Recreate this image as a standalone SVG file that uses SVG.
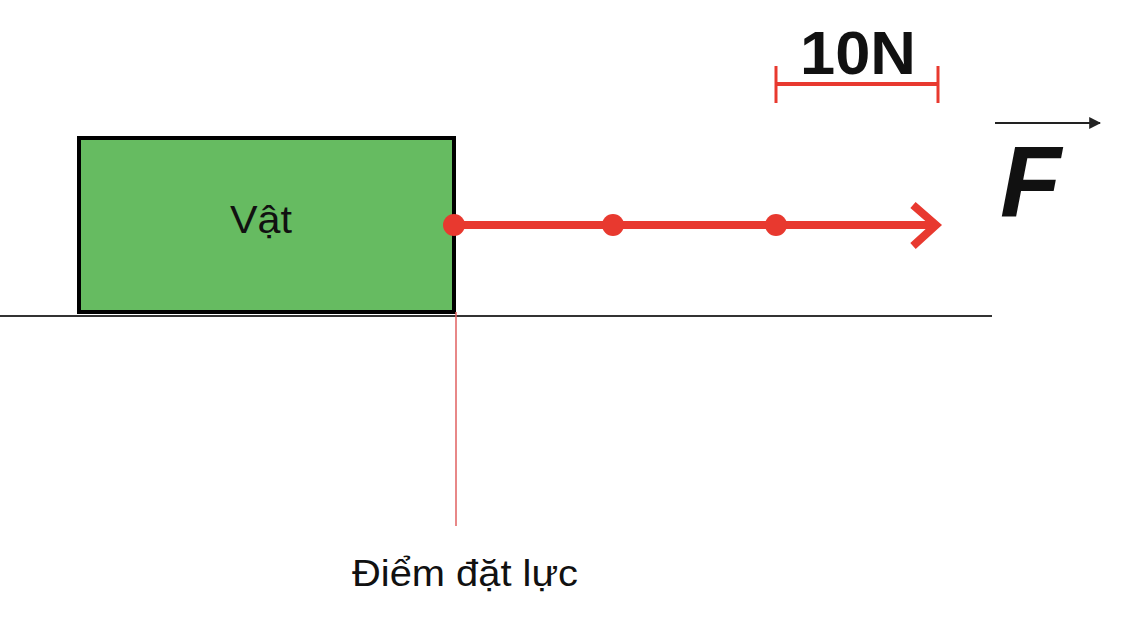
<svg xmlns="http://www.w3.org/2000/svg" width="1122" height="620" viewBox="0 0 1122 620">
<style>
.lbl{font-family:"Liberation Sans",Arial,sans-serif;fill:#111}
.red{stroke:#e8392f;fill:none}
</style>
<defs>
<marker id="ah" viewBox="0 0 10 10" refX="9" refY="5" markerWidth="12" markerHeight="12" markerUnits="userSpaceOnUse" orient="auto">
<path d="M0,0 L10,5 L0,10 z" fill="#222"/>
</marker>
</defs>
<rect width="1122" height="620" fill="#fff"/>
<g id="ground">
<line x1="0" y1="316" x2="992" y2="316" stroke="#333" stroke-width="2"/>
</g>
<g id="vat">
<rect x="79" y="138" width="375" height="174" fill="#66bb61" stroke="#000" stroke-width="4"/>
<text class="lbl" x="261" y="233" font-size="38" text-anchor="middle" textLength="62" lengthAdjust="spacingAndGlyphs">Vật</text>
</g>
<g id="connectors">
<line x1="456" y1="312" x2="456" y2="526" stroke="#e06060" stroke-width="1.5"/>
<line class="red" x1="454" y1="225" x2="934" y2="225" stroke-width="8"/>
<polyline class="red" points="913,205 936,225 913,246" stroke-width="8"/>
<circle cx="454" cy="225" r="11" fill="#e8392f"/>
<circle cx="613" cy="225" r="11" fill="#e8392f"/>
<circle cx="776" cy="225" r="11" fill="#e8392f"/>
</g>
<g id="scale">
<line class="red" x1="776" y1="84" x2="938" y2="84" stroke-width="4"/>
<line class="red" x1="776" y1="66" x2="776" y2="103" stroke-width="3"/>
<line class="red" x1="938" y1="66" x2="938" y2="103" stroke-width="3"/>
<text class="lbl" x="858" y="74" font-size="62" font-weight="bold" text-anchor="middle" textLength="116" lengthAdjust="spacingAndGlyphs">10N</text>
</g>
<g id="F">
<line x1="995" y1="123" x2="1100" y2="123" stroke="#222" stroke-width="2" marker-end="url(#ah)"/>
<text class="lbl" x="1000" y="216" font-size="100" font-weight="bold" font-style="italic">F</text>
</g>
<g id="diem">
<text class="lbl" x="465" y="586" font-size="36" text-anchor="middle" textLength="226" lengthAdjust="spacingAndGlyphs">Điểm đặt lực</text>
</g>
</svg>
